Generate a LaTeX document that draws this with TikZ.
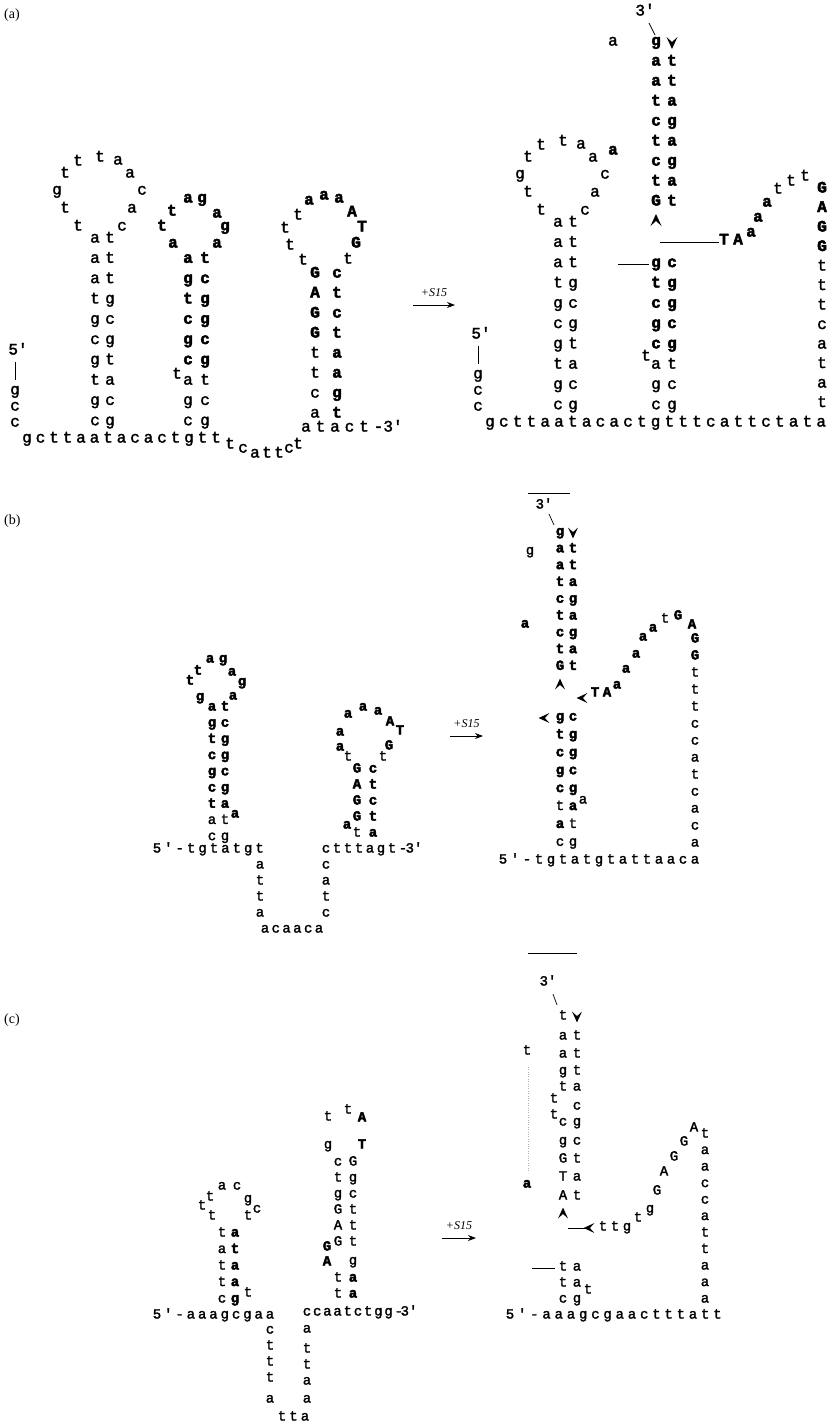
\documentclass[tikz,border=0pt]{standalone}
\usepackage{fontspec}
\setmainfont{Liberation Serif}
\newfontfamily\seqfont{Liberation Mono}[FakeBold=2,BoldFeatures={FakeBold=3}]
\usetikzlibrary{arrows.meta}
\newcommand\seqsz{\fontsize{16}{16}\selectfont}
\tikzset{
  nt/.style ={inner sep=0pt,text height=0.5em,text depth=0pt,font=\seqfont\seqsz},
  nb/.style ={nt,font=\seqfont\bfseries\seqsz},
  lab/.style={inner sep=0pt,font=\fontsize{14}{14}\selectfont},
  sfif/.style={inner sep=0pt,font=\itshape\fontsize{12}{12}\selectfont},
  ar/.style ={-{Stealth[length=8pt,width=6pt]},line width=0.8pt},
  bar/.style={line width=0.7pt},
  vtip/.pic ={\fill (-5.5,-6)--(0,6)--(5.5,-6)--(0,-1)--cycle;},
  utip/.pic ={\fill (-5.5,6)--(0,-6)--(5.5,6)--(0,1)--cycle;},
  ltip/.pic ={\fill (6,-5.5)--(-6,0)--(6,5.5)--(1,0)--cycle;},
}
\begin{document}
\begin{tikzpicture}[x=1pt,y=-1pt]
\useasboundingbox (0,0) rectangle (838,1427);

\node[lab,anchor=west] (labA) at (4,15) {(a)};
\node[lab,anchor=west] (labB) at (4,521) {(b)};
\node[lab,anchor=west] (labC) at (4,1020) {(c)};

% ---- (a) free RNA
\foreach \x/\y/\l in {78/228/t,65/210/t,57/192/g,65/175/t,78/163/t,100/159/t,118/162/a,130/175/a,142/192/c,132/210/a,122/228/c}
  \node[nt] at (\x,\y) {\l};
\foreach \l [count=\i from 0] in {a,a,a,t,g,c,g,t,g,c}
  \node[nt] at (95,{240+20.3*\i}) {\l};
\foreach \l [count=\i from 0] in {t,t,t,g,c,g,t,a,c,g}
  \node[nt] at (110,{240+20.3*\i}) {\l};
\node[nt] (a5) at (18,352) {5'};
\draw[bar] (15,362) -- (15,380);
\foreach \l/\y in {g/392,c/408,c/424} \node[nt] at (15,\y) {\l};
\foreach \l [count=\i from 0] in {g,c,t,t,a,a,t,a,c,a,c,t,g,t,t}
  \node[nt] at ({27+13.5*\i},440) {\l};
\foreach \x/\y/\l in {230/446/t,243/450/c,255/455/a,267/455/t,279/455/t,289/450/c,298/446/t}
  \node[nt] at (\x,\y) {\l};
% second hairpin
\foreach \x/\y/\l in {173/245/a,162/228/t,172/213/t,188/200/a,202/200/g,217/215/a,225/228/g,217/245/a}
  \node[nb] at (\x,\y) {\l};
\foreach \l [count=\i from 1] in {a,g,t,c,g,c}
  \node[nb] at (188,{240+20.3*\i}) {\l};
\foreach \l [count=\i from 7] in {a,g,c}
  \node[nt] at (188,{240+20.3*\i}) {\l};
\foreach \l [count=\i from 1] in {t,c,g,g,c,g}
  \node[nb] at (205,{240+20.3*\i}) {\l};
\foreach \l [count=\i from 7] in {t,c,g}
  \node[nt] at (205,{240+20.3*\i}) {\l};
\node[nt] at (177,376) {t};
% third hairpin
\foreach \x/\y/\l in {303/262/t,290/247/t,285/230/t,298/217/t,348/261/t}
  \node[nt] at (\x,\y) {\l};
\foreach \x/\y/\l in {309/202/a,324/197/a,339/200/a,352/214/A,362/229/T,356/245/G}
  \node[nb] at (\x,\y) {\l};
\foreach \l [count=\i from 0] in {G,A,G,G}
  \node[nb] at (315,{275+20*\i}) {\l};
\foreach \l [count=\i from 4] in {t,t,c,a}
  \node[nt] at (315,{275+20*\i}) {\l};
\foreach \l [count=\i from 0] in {c,t,c,t,a,a,g,t}
  \node[nb] at (337,{275+20*\i}) {\l};
\foreach \l [count=\i from 0] in {a,t,a,c,t,-,3'}
  \node[nt] at ({306+14.5*\i},429) {\l};

\coordinate (sA0) at (413,305);
\coordinate (sA1) at (455,305);
\draw[ar] (sA0) -- (sA1) node[sfif,midway,above=8pt] (tA) {+S15};

% ---- (a) with S15
\foreach \x/\y/\l in {541/212/t,528/194/t,520/176/g,528/159/t,541/147/t,563/143/t,581/146/a,593/159/a,605/176/c,595/194/a,585/212/c}
  \node[nt] at (\x,\y) {\l};
\foreach \l [count=\i from 0] in {a,a,a,t,g,c,g,t,g,c}
  \node[nt] at (558,{224+20.3*\i}) {\l};
\foreach \l [count=\i from 0] in {t,t,t,g,c,g,t,a,c,g}
  \node[nt] at (573,{224+20.3*\i}) {\l};
\node[nt] (b5) at (481,336) {5'};
\draw[bar] (478,346) -- (478,364);
\foreach \l/\y in {g/376,c/392,c/408} \node[nt] at (478,\y) {\l};
\foreach \l [count=\i from 0] in {g,c,t,t,a,a,t,a,c,a,c,t,g,t,t,t,c,a,t,t,c,t,a,t,a}
  \node[nt] at ({490+13.8*\i},424) {\l};
\node[nt] at (613,43) {a};
\node[nb] at (613,152) {a};
% lower stem
\foreach \l [count=\i from 2] in {g,t,c,g,c}
  \node[nb] at (656,{224+20.3*\i}) {\l};
\foreach \l [count=\i from 7] in {a,g,c}
  \node[nt] at (656,{224+20.3*\i}) {\l};
\foreach \l [count=\i from 2] in {c,g,g,c,g}
  \node[nb] at (672,{224+20.3*\i}) {\l};
\foreach \l [count=\i from 7] in {t,c,g}
  \node[nt] at (672,{224+20.3*\i}) {\l};
\node[nt] at (646,358) {t};
\coordinate (ln1a) at (618,264.6);
\coordinate (ln1b) at (649,264.6);
\draw[bar] (ln1a) -- (ln1b);
% upper stem
\foreach \l [count=\i from 0] in {g,a,a,t,c,t,c,t,G}
  \node[nb] at (656,{43+20*\i}) {\l};
\foreach \l [count=\i from 1] in {t,t,a,g,a,g,a,t}
  \node[nb] at (672,{43+20*\i}) {\l};
\pic at (672,43) {vtip};
\pic at (656,220) {utip};
\node[nt] (b3) at (645,13) {3'};
\draw[bar] (649,23) -- (655,35);
\coordinate (ln2a) at (660,242);
\node[nb] (bT) at (724,242) {T};
\node[nb] at (738,242) {A};
\draw[bar] (ln2a) -- (bT.west);
\foreach \x/\y/\l in {751/234/a,758/219/a,767/204/a}
  \node[nb] at (\x,\y) {\l};
\foreach \x/\y/\l in {778/191/t,791/183/t,805/178/t}
  \node[nt] at (\x,\y) {\l};
\foreach \l [count=\i from 0] in {G,A,G,G}
  \node[nb] at (822,{190+19.5*\i}) {\l};
\foreach \l [count=\i from 4] in {t,t,t,c,a,t,a,t}
  \node[nt] at (822,{190+19.5*\i}) {\l};

% ---- (b)
\begin{scope}
\renewcommand\seqsz{\fontsize{14}{14}\selectfont}
\foreach \x/\y/\l in {210/660/a,223/660/g,198/672/t,190/682/t,200/698/g,232/673/a,242/683/g,233/697/a}
  \node[nb] at (\x,\y) {\l};
\foreach \l [count=\i from 0] in {a,g,t,c,g,c,t}
  \node[nb] at (212,{708+16.2*\i}) {\l};
\foreach \l [count=\i from 7] in {a,c}
  \node[nt] at (212,{708+16.2*\i}) {\l};
\foreach \l [count=\i from 0] in {t,c,g,g,c,g,a}
  \node[nb] at (225,{708+16.2*\i}) {\l};
\foreach \l [count=\i from 7] in {t,g}
  \node[nt] at (225,{708+16.2*\i}) {\l};
\node[nb] at (235,815) {a};
\foreach \l [count=\i from 0] in {5,',-,t,g,t,a,t,g,t}
  \node[nt] at ({157+11.4*\i},850) {\l};
\foreach \l [count=\i from 0] in {a,t,t,a}
  \node[nt] at (260,{866+16*\i}) {\l};
\foreach \l [count=\i from 0] in {a,c,a,a,c,a}
  \node[nt] at ({265+10.8*\i},930) {\l};
\foreach \l [count=\i from 0] in {c,a,t,c}
  \node[nt] at (326,{866+16*\i}) {\l};
\foreach \l [count=\i from 0] in {c,t,t,t,a,g,t,-,3'}
  \node[nt] at ({326+11*\i},850) {\l};
\foreach \x/\y/\l in {348/715/a,363/708/a,378/712/a,390/723/A,400/732/T,389/747/G,340/733/a,340/748/a,347/826/a}
  \node[nb] at (\x,\y) {\l};
\foreach \x/\y/\l in {383/758/t,348/758/t}
  \node[nt] at (\x,\y) {\l};
\foreach \l [count=\i from 0] in {G,A,G,G}
  \node[nb] at (357,{770+16*\i}) {\l};
\node[nt] at (357,834) {t};
\foreach \l [count=\i from 0] in {c,t,c,t,a}
  \node[nb] at (373,{770+16*\i}) {\l};

\coordinate (sB0) at (450,736);
\coordinate (sB1) at (483,736);
\draw[ar] (sB0) -- (sB1) node[sfif,midway,above=8pt] (tB) {+S15};

% with S15
\coordinate (topBa) at (528,493);
\coordinate (topBb) at (570,493);
\draw[bar] (topBa) -- (topBb);
\node[nt] (c3) at (544,506) {3'};
\draw[bar] (549,514) -- (554,525);
\node[nt] at (530,552) {g};
\node[nb] at (525,625) {a};
\foreach \l [count=\i from 0] in {g,a,a,t,c,t,c,t,G}
  \node[nb] at (560,{533+16.8*\i}) {\l};
\foreach \l [count=\i from 1] in {t,t,a,g,a,g,a,t}
  \node[nb] at (573,{533+16.8*\i}) {\l};
\pic[scale=0.9] at (573,533) {vtip};
\pic[scale=0.9] at (560,684) {utip};
\pic[scale=0.9] at (544,718) {ltip};
\foreach \l [count=\i from 0] in {g,t,c,g,c}
  \node[nb] at (560,{718+17.9*\i}) {\l};
\foreach \l [count=\i from 0] in {c,g,g,c,g,a}
  \node[nb] at (573,{718+17.9*\i}) {\l};
\node[nt] at (560,807.5) {t};
\node[nb] at (560,825.4) {a};
\node[nt] at (560,843.3) {c};
\node[nt] at (573,825.4) {t};
\node[nt] at (573,843.3) {g};
\node[nt] at (583,801) {a};
\foreach \l [count=\i from 0] in {5,',-,t,g,t,a,t,g,t,a,t,t,a,a,c,a}
  \node[nt] at ({503+12*\i},861) {\l};
\pic[scale=0.9] at (582,698) {ltip};
\foreach \x/\y/\l in {595/694/T,607/694/A,617/686/a,626/670/a,636/655/a,643/638/a,653/629/a,678/617/G,692/626/A}
  \node[nb] at (\x,\y) {\l};
\node[nt] at (665,620) {t};
\foreach \l [count=\i from 0] in {G,G}
  \node[nb] at (695,{640+17*\i}) {\l};
\foreach \l [count=\i from 2] in {t,t,t,c,c,a,t,c,a,c,a}
  \node[nt] at (695,{640+17*\i}) {\l};
\end{scope}

% ---- (c)
\begin{scope}
\renewcommand\seqsz{\fontsize{14}{14}\selectfont}
\foreach \x/\y/\l in {222/1187/a,237/1187/c,210/1198/t,202/1207/t,212/1217/t,248/1200/g,257/1210/c,248/1217/t,248/1294/t}
  \node[nt] at (\x,\y) {\l};
\foreach \l/\y in {t/1234,a/1250.5,t/1267,t/1283.5,c/1300}
  \node[nt] at (222,\y) {\l};
\foreach \l/\y in {a/1234,t/1250.5,a/1267,a/1283.5,g/1300}
  \node[nb] at (235,\y) {\l};
\foreach \l [count=\i from 0] in {5,',-,a,a,a,g,c,g,a,a}
  \node[nt] at ({157+11.3*\i},1316) {\l};
\foreach \l/\y in {c/1331,t/1347,t/1363,t/1379,a/1400}
  \node[nt] at (270,\y) {\l};
\foreach \l [count=\i from 0] in {t,t,a}
  \node[nt] at ({282+11.5*\i},1418) {\l};
\foreach \l/\y in {a/1330,t/1350,t/1366,a/1382,a/1400}
  \node[nt] at (307,\y) {\l};
\foreach \l [count=\i from 0] in {c,c,a,a,t,c,t,g,g,-,3'}
  \node[nt] at ({307+10.2*\i},1313) {\l};
\foreach \x/\y/\l in {328/1118/t,348/1111/t,328/1146/g}
  \node[nt] at (\x,\y) {\l};
\foreach \x/\y/\l in {362/1119/A,362/1146/T,327/1248/G,327/1263/A}
  \node[nb] at (\x,\y) {\l};
\foreach \l [count=\i from 0] in {c,t,g,G,A,G}
  \node[nt] at (338,{1163+16*\i}) {\l};
\foreach \l [count=\i from 0] in {G,g,c,t,t,t}
  \node[nt] at (353,{1163+16*\i}) {\l};
\node[nt] at (353,1262) {g};
\foreach \l/\y in {t/1279,t/1295} \node[nt] at (338,\y) {\l};
\foreach \l/\y in {a/1279,a/1295} \node[nb] at (353,\y) {\l};

\coordinate (sC0) at (442,1238);
\coordinate (sC1) at (476,1238);
\draw[ar] (sC0) -- (sC1) node[sfif,midway,above=8pt] (tC) {+S15};

% with S15
\coordinate (topCa) at (528,953);
\coordinate (topCb) at (577,953);
\draw[bar] (topCa) -- (topCb);
\node[nt] (d3) at (548,983) {3'};
\draw[bar] (553,994) -- (557,1005);
\node[nt] (dt) at (527,1052) {t};
\node[nb] (da) at (527,1185) {a};
\draw[gray!60,dotted] (dt.south) ++(1,12) -- (528,1172);
\foreach \l/\y in {t/1017,a/1037,a/1055,g/1072,t/1088,c/1123,g/1142,G/1160,T/1178,A/1197}
  \node[nt] at (563,\y) {\l};
\foreach \l/\y in {t/1037,t/1055,t/1072,a/1088,c/1107,g/1123,c/1142,t/1160,a/1178,t/1197}
  \node[nt] at (577,\y) {\l};
\foreach \l/\y in {t/1100,t/1116}
  \node[nt] at (554,\y) {\l};
\pic[scale=0.9] at (577,1017) {vtip};
\pic[scale=0.9] at (563,1213) {utip};
\coordinate (arCa) at (568,1228);
\draw[bar] (arCa) -- ++(20,0);
\pic[scale=0.9] at (589,1228) {ltip};
\foreach \l [count=\i from 0] in {t,t,g}
  \node[nt] at ({603+12*\i},1228) {\l};
\foreach \x/\y/\l in {638/1219/t,650/1210/g}
  \node[nt] at (\x,\y) {\l};
\foreach \x/\y/\l in {657/1192/G,664/1173/A,674/1158/G,684/1143/G,694/1129/A}
  \node[nt] at (\x,\y) {\l};
\foreach \l [count=\i from 0] in {t,a,a,c,c,a,t,t,a,a,a}
  \node[nt] at (705,{1135+16.5*\i}) {\l};
\coordinate (lnCa) at (532,1268);
\coordinate (lnCb) at (555,1268);
\draw[bar] (lnCa) -- (lnCb);
\foreach \l/\y in {t/1268,t/1284,c/1300} \node[nt] at (563,\y) {\l};
\foreach \l/\y in {a/1268,a/1284,g/1300} \node[nt] at (577,\y) {\l};
\node[nt] at (588,1291) {t};
\foreach \l [count=\i from 0] in {5,',-,a,a,a,g,c,g,a,a,c,t,t,t,a,t,t}
  \node[nt] at ({510+12.2*\i},1316) {\l};
\end{scope}
\end{tikzpicture}
\end{document}
